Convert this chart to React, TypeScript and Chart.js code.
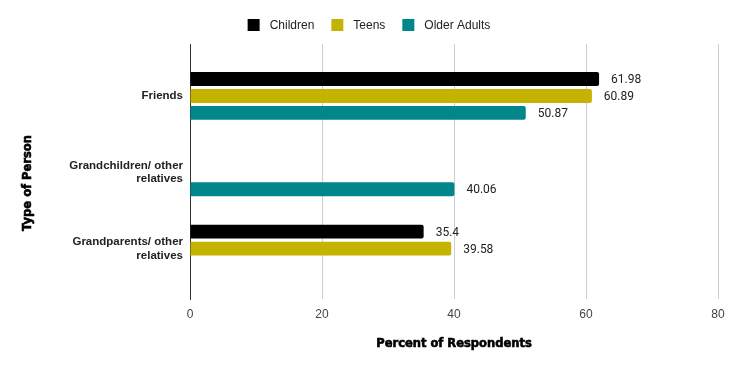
import React, { useEffect, useRef } from "react";
import { Chart, registerables } from "chart.js";

Chart.register(...registerables);

const categories: string[][] = [["Friends"], ["Grandchildren/ other", "relatives"], ["Grandparents/ other", "relatives"]];
const seriesNames = ["Children", "Teens", "Older Adults"];
const children: (number | null)[] = [61.98, null, 35.4];
const teens: (number | null)[] = [60.89, null, 39.58];
const olderAdults: (number | null)[] = [50.87, 40.06, null];
const xTicks = [0, 20, 40, 60, 80];
const colors = ["#000000", "#c4b300", "#00868b"];
const yTitle = "Type of Person";
const xTitle = "Percent of Respondents";

const LABEL_FONT = "12px Roboto, 'Liberation Sans', Arial, sans-serif";
const LEGEND_FONT = "12px 'Liberation Sans', Arial, sans-serif";
const TITLE_FONT = "bold 11.5px 'DejaVu Sans', 'Liberation Sans', Arial, sans-serif";

const customDraw = {
  id: "customDraw",
  afterDatasetsDraw(chart: any) {
    const ctx = chart.ctx;
    ctx.save();
    // value labels
    ctx.font = LABEL_FONT;
    ctx.fillStyle = "#222222";
    ctx.textBaseline = "middle";
    ctx.textAlign = "left";
    chart.data.datasets.forEach((ds: any, di: number) => {
      const meta = chart.getDatasetMeta(di);
      meta.data.forEach((bar: any, i: number) => {
        const v = ds.data[i].x;
        if (v === null || v === undefined) return;
        ctx.fillText(String(v), bar.x + 12, bar.y + 1);
      });
    });
    // legend
    ctx.font = LEGEND_FONT;
    const box = 12, gapText = 10, gapItem = 17;
    const widths = seriesNames.map((n) => ctx.measureText(n).width);
    const total = widths.reduce((a, w) => a + box + gapText + w, 0) + gapItem * (seriesNames.length - 1);
    let x = 369 - total / 2;
    const cy = 25;
    seriesNames.forEach((n, i) => {
      ctx.fillStyle = colors[i];
      ctx.fillRect(x, cy - box / 2, box, box);
      ctx.fillStyle = "#222222";
      ctx.textAlign = "left";
      ctx.fillText(n, x + box + gapText, cy + 1);
      x += box + gapText + widths[i] + gapItem;
    });
    // axis titles (heavy)
    ctx.font = TITLE_FONT;
    ctx.fillStyle = "#000000";
    ctx.strokeStyle = "#000000";
    ctx.lineWidth = 0.6;
    ctx.textAlign = "center";
    const area = chart.chartArea;
    ctx.fillText(xTitle, (area.left + area.right) / 2, 344);
    ctx.strokeText(xTitle, (area.left + area.right) / 2, 344);
    ctx.translate(28, 183);
    ctx.rotate(-Math.PI / 2);
    ctx.fillText(yTitle, 0, 0);
    ctx.strokeText(yTitle, 0, 0);
    ctx.restore();
  },
};

export default function App() {
  const ref = useRef<HTMLCanvasElement>(null);
  useEffect(() => {
    document.body.style.margin = "0";
    const toPoints = (arr: (number | null)[]) => arr.map((v, i) => ({ x: v, y: i }));
    const seriesData = [children, teens, olderAdults];
    const chart = new Chart(ref.current as HTMLCanvasElement, {
      type: "bar",
      data: {
        datasets: seriesNames.map((name, i) => ({
          label: name,
          data: toPoints(seriesData[i]) as any,
          backgroundColor: colors[i],
          borderRadius: 2,
          categoryPercentage: 0.667,
          barPercentage: 0.82,
        })),
      },
      plugins: [customDraw],
      options: {
        indexAxis: "y",
        responsive: false,
        animation: false,
        layout: { padding: { top: 44, right: 20, left: 0, bottom: 0 } },
        plugins: {
          tooltip: { enabled: false },
          legend: { display: false },
        },
        scales: {
          x: {
            type: "linear",
            min: 0,
            max: 80,
            afterBuildTicks: (scale: any) => {
              scale.ticks = xTicks.map((v) => ({ value: v }));
            },
            afterFit: (scale: any) => {
              scale.height = 72;
            },
            grid: {
              drawTicks: false,
              color: (c: any) => (c.tick && c.tick.value === 0 ? "#333333" : "#cccccc"),
            },
            border: { display: false },
            ticks: {
              padding: 8,
              color: "#444444",
              font: { size: 12, family: "'Liberation Sans', Arial, sans-serif" },
            },
            title: { display: false },
          },
          y: {
            type: "linear",
            reverse: true,
            offset: false,
            bounds: "data",
            min: -0.68,
            max: 2.66,
            afterDataLimits: (scale: any) => {
              scale.min = -0.68;
              scale.max = 2.66;
            },
            afterBuildTicks: (scale: any) => {
              scale.min = -0.68;
              scale.max = 2.66;
              scale.ticks = categories.map((_, i) => ({ value: i }));
            },
            afterFit: (scale: any) => {
              scale.width = 190;
            },
            grid: { display: false, offset: false, drawTicks: false },
            border: { display: true, color: "#333333" },
            ticks: {
              padding: 7,
              color: "#222222",
              font: { size: 11.5, weight: "bold", family: "'Liberation Sans', Arial, sans-serif" },
              callback: (v: any) => {
                const idx = Math.round(Number(v));
                return categories[idx] ?? "";
              },
            },
            title: { display: false },
          },
        },
      } as any,
    });
    return () => chart.destroy();
  }, []);
  return (
    <div style={{ width: 738, height: 371 }}>
      <canvas ref={ref} width={738} height={371} />
    </div>
  );
}
